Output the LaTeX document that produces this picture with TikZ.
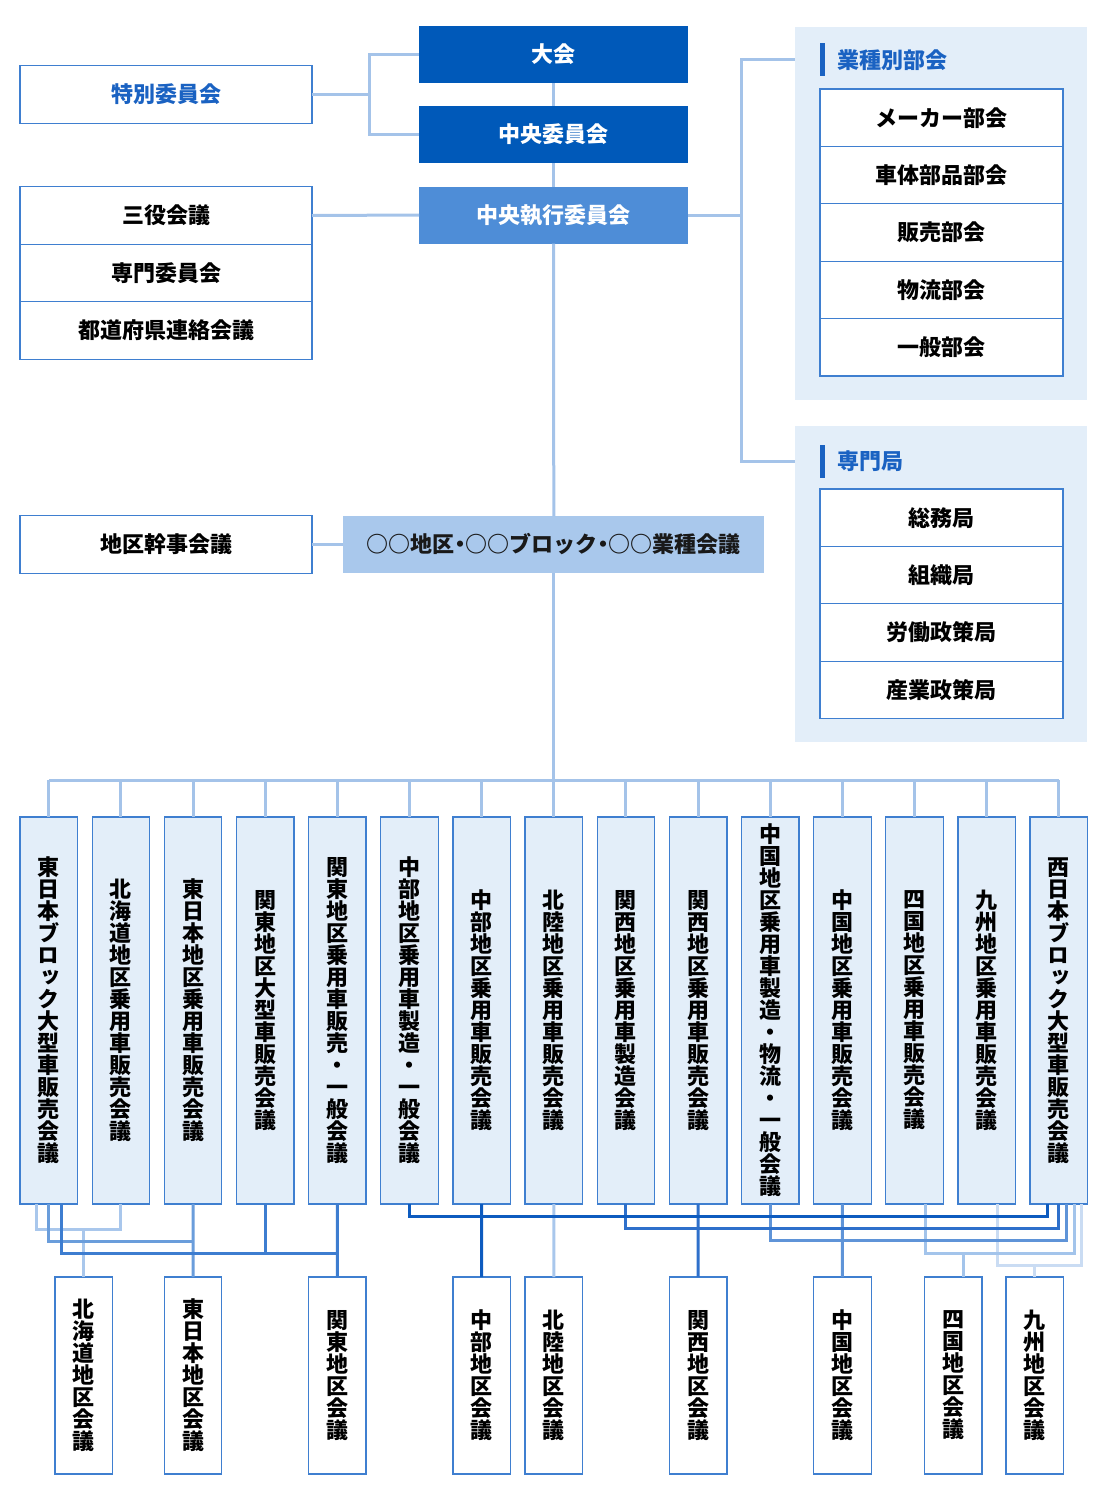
\documentclass[tikz,border=0pt]{standalone}
\usepackage{fontspec}
\setmainfont{Noto Sans CJK JP}
\newfontfamily\vfont{Noto Sans CJK JP}[RawFeature=+vert]
\definecolor{dkblue}{HTML}{0059B9}
\definecolor{mdblue}{HTML}{4E8DD7}
\definecolor{ltblue}{HTML}{A9C8EC}
\definecolor{panelbg}{HTML}{E3EEF9}
\definecolor{edge}{HTML}{3F7FD0}
\definecolor{ttl}{HTML}{1A62C2}
\definecolor{connA}{HTML}{A4C3E9}
\definecolor{lnHok}{HTML}{A9C7EC}
\definecolor{lnHig}{HTML}{6A9DDB}
\definecolor{lnKan}{HTML}{3D7DD0}
\definecolor{lnChu}{HTML}{0D5BBF}
\definecolor{lnKns}{HTML}{2E70CB}
\definecolor{lnCgk}{HTML}{5F94D8}
\definecolor{lnSik}{HTML}{A3C4EB}
\definecolor{lnKyu}{HTML}{CADCF3}
\ExplSyntaxOn
\NewDocumentCommand\vt{m}{\vbox{\baselineskip=22pt\relax\lineskiplimit=-100pt\relax\lineskip=0pt\relax\tl_map_inline:nn{#1}{\hbox~to~22pt{\hss##1\hss}}}}
\ExplSyntaxOff
\newcommand\nk{\hbox to 11pt{\hss・\hss}}
\tikzset{
  every node/.style={inner sep=0pt, outer sep=0pt},
  fnt/.style={font=\fontsize{22pt}{26pt}\selectfont\bfseries},
  vfnt/.style={font=\vfont\fontsize{22pt}{22pt}\selectfont\bfseries},
  topbox/.style={fnt, fill=dkblue, text=white, minimum width=269pt, minimum height=57pt},
  midbox/.style={fnt, fill=mdblue, text=white, minimum width=269pt, minimum height=57pt},
  wbox/.style={fnt, draw=edge, line width=1.3pt, fill=white, minimum width=292pt, minimum height=57.5pt},
  sbox/.style={fnt, draw=edge, line width=1.3pt, fill=white, minimum width=243pt, minimum height=57.4pt},
  panel/.style={fill=panelbg, minimum width=292pt},
  ttlbar/.style={fill=ttl, minimum width=5pt, minimum height=33pt},
  ttltext/.style={fnt, text=ttl, anchor=west},
  vbx/.style={vfnt, draw=edge, line width=1.3pt, fill=panelbg, minimum width=57.5pt, minimum height=387pt},
  kbx/.style={vfnt, draw=edge, line width=1.3pt, fill=white, minimum width=57.5pt, minimum height=197pt},
  conn/.style={draw=connA, line width=3pt},
  ln/.style={line width=3pt},
}
\begin{document}
\begin{tikzpicture}[x=1pt,y=-1pt]
\useasboundingbox (0,0) rectangle (1110,1500);
% right panels
\node[panel, minimum height=373pt] (p1) at (941,213.5) {};
\node[panel, minimum height=316pt] (p2) at (941,584) {};
\node[ttlbar] (bar1) at (822.5,59.5) {};
\node[ttltext] (t1) at (837,60) {業種別部会};
\node[ttlbar] (bar2) at (822.5,461) {};
\node[ttltext] (t2) at (837,461) {専門局};
\node[sbox] (s1) at (941.5,117.7) {メーカー部会};
\node[sbox] (s2) at (941.5,175.1) {車体部品部会};
\node[sbox] (s3) at (941.5,232.5) {販売部会};
\node[sbox] (s4) at (941.5,289.9) {物流部会};
\node[sbox] (s5) at (941.5,347.3) {一般部会};
\node[sbox] (r1) at (941.5,517.7) {総務局};
\node[sbox] (r2) at (941.5,575.1) {組織局};
\node[sbox] (r3) at (941.5,632.5) {労働政策局};
\node[sbox] (r4) at (941.5,689.9) {産業政策局};
% center
\node[topbox] (taikai) at (553.5,54.5) {大会};
\node[topbox] (chuo) at (553.5,134.5) {中央委員会};
\node[midbox] (shikko) at (553.5,215) {中央執行委員会};
\node[fnt, fill=ltblue, text=black!90, minimum width=421pt, minimum height=57pt] (chiku) at (553.8,544.5) {○○地区\nk○○ブロック\nk○○業種会議};
% left
\node[wbox, text=ttl] (tokubetsu) at (166,94.5) {特別委員会};
\node[wbox] (sanyaku) at (166,215.5) {三役会議};
\node[wbox] (senmon) at (166,273) {専門委員会};
\node[wbox] (todo) at (166,330.5) {都道府県連絡会議};
\node[wbox] (kanji) at (166,544.5) {地区幹事会議};
% top connectors
\coordinate (jl) at (369,94.5);
\coordinate (jr) at (741,215);
\draw[conn] (tokubetsu.east) -- (jl);
\draw[conn] (taikai.west) -| (jl);
\draw[conn] (chuo.west) -| (jl);
\draw[conn] (taikai.south) -- (chuo.north);
\draw[conn] (chuo.south) -- (shikko.north);
\draw[conn] (sanyaku.east) -- (shikko.west);
\draw[conn] (shikko.east) -- (jr);
\draw[conn] (jr) |- (p1.west |- bar1.center);
\draw[conn] (jr) |- (p2.west |- bar2.center);
\draw[conn] (shikko.south) -- (chiku.north);
\draw[conn] (kanji.east) -- (chiku.west);
% middle row boxes
\coordinate (bus) at (553.8,780);
\foreach \i/\t in {1/東日本ブロック大型車販売会議,2/北海道地区乗用車販売会議,3/東日本地区乗用車販売会議,4/関東地区大型車販売会議,5/関東地区乗用車販売・一般会議,6/中部地区乗用車製造・一般会議,7/中部地区乗用車販売会議,8/北陸地区乗用車販売会議,9/関西地区乗用車製造会議,10/関西地区乗用車販売会議,11/中国地区乗用車製造・物流・一般会議,12/中国地区乗用車販売会議,13/四国地区乗用車販売会議,14/九州地区乗用車販売会議,15/西日本ブロック大型車販売会議}{
  \node[vbx] (b\i) at ({48.75+72.15*(\i-1)},1010.5) {\expandafter\vt\expandafter{\t}};
  \draw[conn] (b\i.north) -- (b\i.north |- bus);
}
\draw[conn] (chiku.south) -- (bus);
\draw[conn] (b1.north |- bus) -- (b15.north |- bus);
% bottom boxes
\node[kbx] (k1) at (83.75,1375.5) {\vt{北海道地区会議}};
\node[kbx] (k2) at (193.05,1375.5) {\vt{東日本地区会議}};
\node[kbx] (k3) at (337.35,1375.5) {\vt{関東地区会議}};
\node[kbx] (k4) at (481.65,1375.5) {\vt{中部地区会議}};
\node[kbx] (k5) at (553.8,1375.5) {\vt{北陸地区会議}};
\node[kbx] (k6) at (698.1,1375.5) {\vt{関西地区会議}};
\node[kbx] (k7) at (842.4,1375.5) {\vt{中国地区会議}};
\node[kbx] (k8) at (953.25,1375.5) {\vt{四国地区会議}};
\node[kbx] (k9) at (1034.75,1375.5) {\vt{九州地区会議}};
% bottom connector levels
\coordinate (yChu) at (0,1216.5);
\coordinate (yKns) at (0,1228.5);
\coordinate (yHok) at (0,1229);
\coordinate (yCgk) at (0,1240.5);
\coordinate (yHig) at (0,1241);
\coordinate (yKan) at (0,1253);
\coordinate (ySik) at (0,1253);
\coordinate (yKyu) at (0,1265);
\coordinate (a1) at ([xshift=-12.7pt]b1.south);
\coordinate (a3) at ([xshift=12.5pt]b1.south);
\coordinate (o1) at ([xshift=-11pt]b15.south);
\coordinate (o3) at ([xshift=8pt]b15.south);
\coordinate (o4) at ([xshift=15.5pt]b15.south);
\coordinate (o5) at ([xshift=23pt]b15.south);
\coordinate (d13) at ([xshift=10.5pt]b13.south);
\coordinate (d14) at ([xshift=10.5pt]b14.south);
\coordinate (e8) at ([xshift=10pt]k8.north);
% Kyushu
\draw[ln, draw=lnKyu] (d14) |- (o5 |- yKyu) -- (o5);
\draw[ln, draw=lnKyu] (k9.north) -- (k9.north |- yKyu);
% Shikoku
\draw[ln, draw=lnSik] (d13) |- (o4 |- ySik) -- (o4);
\draw[ln, draw=lnSik] (e8) -- (e8 |- ySik);
% Hokuriku
\draw[ln, draw=lnHok] (b8.south) -- (k5.north);
% Hokkaido
\draw[ln, draw=lnHok] (a1) |- (b2.south |- yHok) -- (b2.south);
\draw[ln, draw=lnHok] (k1.north) -- (k1.north |- yHok);
% Chugoku
\draw[ln, draw=lnCgk] (b11.south) |- (o3 |- yCgk) -- (o3);
\draw[ln, draw=lnCgk] (b12.south) -- (k7.north);
% Higashi Nihon
\draw[ln, draw=lnHig] (b1.south) |- (b3.south |- yHig);
\draw[ln, draw=lnHig] (b3.south) -- (k2.north);
% Kansai
\draw[ln, draw=lnKns] (b9.south) |- (b15.south |- yKns) -- (b15.south);
\draw[ln, draw=lnKns] (b10.south) -- (k6.north);
% Kanto
\draw[ln, draw=lnKan] (a3) |- (b5.south |- yKan);
\draw[ln, draw=lnKan] (b4.south) -- (b4.south |- yKan);
\draw[ln, draw=lnKan] (b5.south) -- (k3.north);
% Chubu
\draw[ln, draw=lnChu] (b6.south) |- (o1 |- yChu) -- (o1);
\draw[ln, draw=lnChu] (b7.south) -- (k4.north);
\end{tikzpicture}
\end{document}
